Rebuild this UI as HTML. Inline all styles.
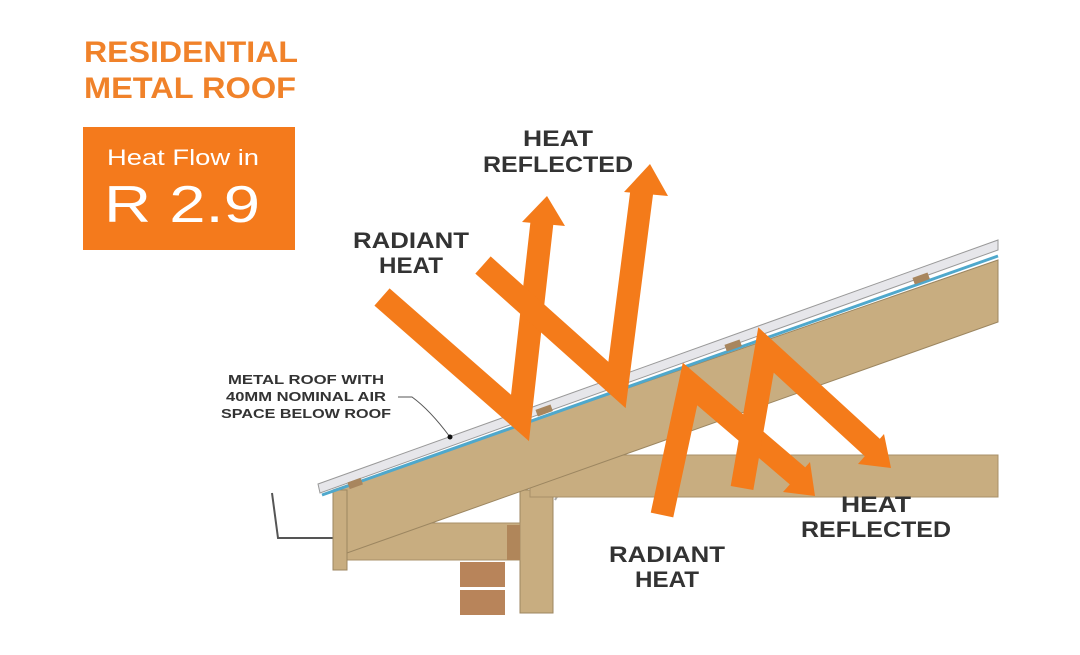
<!DOCTYPE html>
<html><head><meta charset="utf-8"><style>
html,body{margin:0;padding:0;background:#fff;width:1080px;height:655px;overflow:hidden}
svg{display:block}
text{font-family:"Liberation Sans",sans-serif;font-weight:bold}
text.n{font-weight:normal}
</style></head><body>
<svg width="1080" height="655" viewBox="0 0 1080 655" xmlns="http://www.w3.org/2000/svg">
<text x="84" y="62" font-size="30" fill="#f0822a" textLength="214" lengthAdjust="spacingAndGlyphs">RESIDENTIAL</text>
<text x="84" y="98" font-size="30" fill="#f0822a" textLength="212" lengthAdjust="spacingAndGlyphs">METAL ROOF</text>
<rect x="83" y="127" width="212" height="123" fill="#f47a1c"/>
<text class="n" x="107" y="165" font-size="22" fill="#fff" textLength="152" lengthAdjust="spacingAndGlyphs">Heat Flow in</text>
<text class="n" x="104" y="222" font-size="52" fill="#fff" textLength="156" lengthAdjust="spacingAndGlyphs">R 2.9</text>

<path d="M272,493 L278,538 L333,538" fill="none" stroke="#555" stroke-width="2"/>
<rect x="520" y="490" width="33" height="123" fill="#c8ad80" stroke="#9c8660"/>
<path d="M555,500 Q560,490 575,490" fill="none" stroke="#aaa" stroke-width="2"/>
<rect x="530" y="455" width="468" height="42" fill="#c8ad80" stroke="#a89068"/>
<rect x="347" y="523" width="173" height="37" fill="#c8ad80" stroke="#a89068"/>
<rect x="507" y="525" width="13" height="35" fill="#b0865a"/>
<rect x="460" y="562" width="45" height="25" fill="#b8845a"/>
<rect x="460" y="590" width="45" height="25" fill="#b8845a"/>
<polygon points="333,490 998,260 998,322 347,553" fill="#c8ad80" stroke="#9c8660"/>
<rect x="333" y="490" width="14" height="80" fill="#c8ad80" stroke="#9c8660"/>
<polygon points="318,484 998,240 998,250 320,493" fill="#e6e6ea" stroke="#999" stroke-width="1"/>
<line x1="322" y1="495" x2="998" y2="256" stroke="#4fa8cc" stroke-width="3"/>
<g fill="#a8865e">
<rect x="536" y="407" width="16" height="7" transform="rotate(-19.8 544 410)"/>
<rect x="725" y="342" width="16" height="7" transform="rotate(-19.8 733 345)"/>
<rect x="913" y="275" width="16" height="7" transform="rotate(-19.8 921 278)"/>
<rect x="348" y="480" width="14" height="7" transform="rotate(-19.8 355 483)"/>
</g>

<g fill="none" stroke="#f47b1a" stroke-width="23" stroke-linejoin="miter">
<polyline points="382,297 520,418 542,222"/>
<polyline points="483,265 617,385 642,190"/>
<polyline points="662,515 690,384 800,478"/>
<polyline points="742,488 766,350 875,450"/>
</g>
<g fill="#f47b1a">
<polygon points="547,196 565,226 522,222"/>
<polygon points="650,164 668,196 624,192"/>
<polygon points="815,496 783,492 810,462"/>
<polygon points="891,468 858,464 884,434"/>
</g>

<g fill="#333" font-size="22">
<text x="558" y="146" text-anchor="middle" textLength="70" lengthAdjust="spacingAndGlyphs">HEAT</text>
<text x="558" y="172" text-anchor="middle" textLength="150" lengthAdjust="spacingAndGlyphs">REFLECTED</text>
<text x="411" y="248" text-anchor="middle" textLength="116" lengthAdjust="spacingAndGlyphs">RADIANT</text>
<text x="411" y="273" text-anchor="middle" textLength="64" lengthAdjust="spacingAndGlyphs">HEAT</text>
<text x="876" y="512" text-anchor="middle" textLength="70" lengthAdjust="spacingAndGlyphs">HEAT</text>
<text x="876" y="537" text-anchor="middle" textLength="150" lengthAdjust="spacingAndGlyphs">REFLECTED</text>
<text x="667" y="562" text-anchor="middle" textLength="116" lengthAdjust="spacingAndGlyphs">RADIANT</text>
<text x="667" y="587" text-anchor="middle" textLength="64" lengthAdjust="spacingAndGlyphs">HEAT</text>
</g>
<g fill="#333" font-size="12.5">
<text x="306" y="384" text-anchor="middle" textLength="156" lengthAdjust="spacingAndGlyphs">METAL ROOF WITH</text>
<text x="306" y="401" text-anchor="middle" textLength="160" lengthAdjust="spacingAndGlyphs">40MM NOMINAL AIR</text>
<text x="306" y="418" text-anchor="middle" textLength="170" lengthAdjust="spacingAndGlyphs">SPACE BELOW ROOF</text>
</g>
<path d="M398,397 L412,397 Q430,410 450,437" fill="none" stroke="#555" stroke-width="1"/>
<circle cx="450" cy="437" r="2.5" fill="#111"/>
</svg>
</body></html>
